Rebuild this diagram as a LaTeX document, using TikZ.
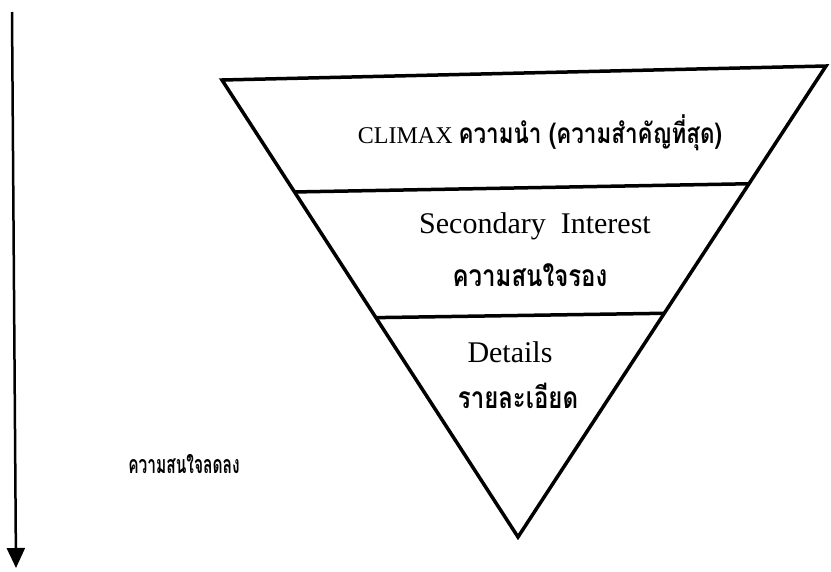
\documentclass[tikz,border=0pt]{standalone}
\usepackage{fontspec}
\setmainfont{Liberation Serif}
\newfontfamily\thaifont[Script=Thai, FakeStretch=0.8]{Loma}
\newfontfamily\thainarrow[Script=Thai, FakeStretch=0.62]{Loma}
\usepackage{tikz}
\usetikzlibrary{arrows.meta,calc}

\begin{document}
\begin{tikzpicture}[x=1pt, y=-1pt,
    side/.style={line width=3.5pt, line join=miter},
    txt/.style={inner sep=0pt, anchor=base},
    latin/.style={txt, font=\fontsize{30}{32}\selectfont},
    thai/.style={txt, font=\thaifont\bfseries\fontsize{30}{32}\selectfont}]
    \useasboundingbox (0,0) rectangle (831,571);

    % inverted pyramid
    \coordinate (topleft) at (222,80);
    \coordinate (topright) at (826,66);
    \coordinate (apex) at (518,537);
    \draw[side] (topleft) -- (topright) -- (apex) -- cycle;

    \coordinate (second_l) at ($(topleft)!0.245!(apex)$);
    \coordinate (second_r) at ($(topright)!0.25!(apex)$);
    \coordinate (detail_l) at ($(topleft)!0.52!(apex)$);
    \coordinate (detail_r) at ($(topright)!0.525!(apex)$);
    \draw[side] (second_l) -- (second_r);
    \draw[side] (detail_l) -- (detail_r);

    \node[txt, font=\fontsize{24}{26}\selectfont] (climax) at (540,143)
        {CLIMAX {\thaifont\bfseries\fontsize{28}{30}\selectfont ความนำ (ความสำคัญที่สุด)}};

    \node[latin] (secondary) at (535,233) {Secondary\ \ Interest};
    \node[thai] (secondary_th) at (530,286) {ความสนใจรอง};

    \node[latin] (details) at (510,362) {Details};
    \node[thai] (details_th) at (518,408) {รายละเอียด};

    % interest goes down
    \coordinate (arrow_top) at (12,12);
    \coordinate (arrow_end) at (16,568);
    \draw[-{Triangle[length=20pt,width=18pt]}, line width=2.5pt] (arrow_top) -- (arrow_end);
    \node[txt, font=\thainarrow\bfseries\fontsize{25}{27}\selectfont] (decline) at (184,473) {ความสนใจลดลง};
\end{tikzpicture}
\end{document}
